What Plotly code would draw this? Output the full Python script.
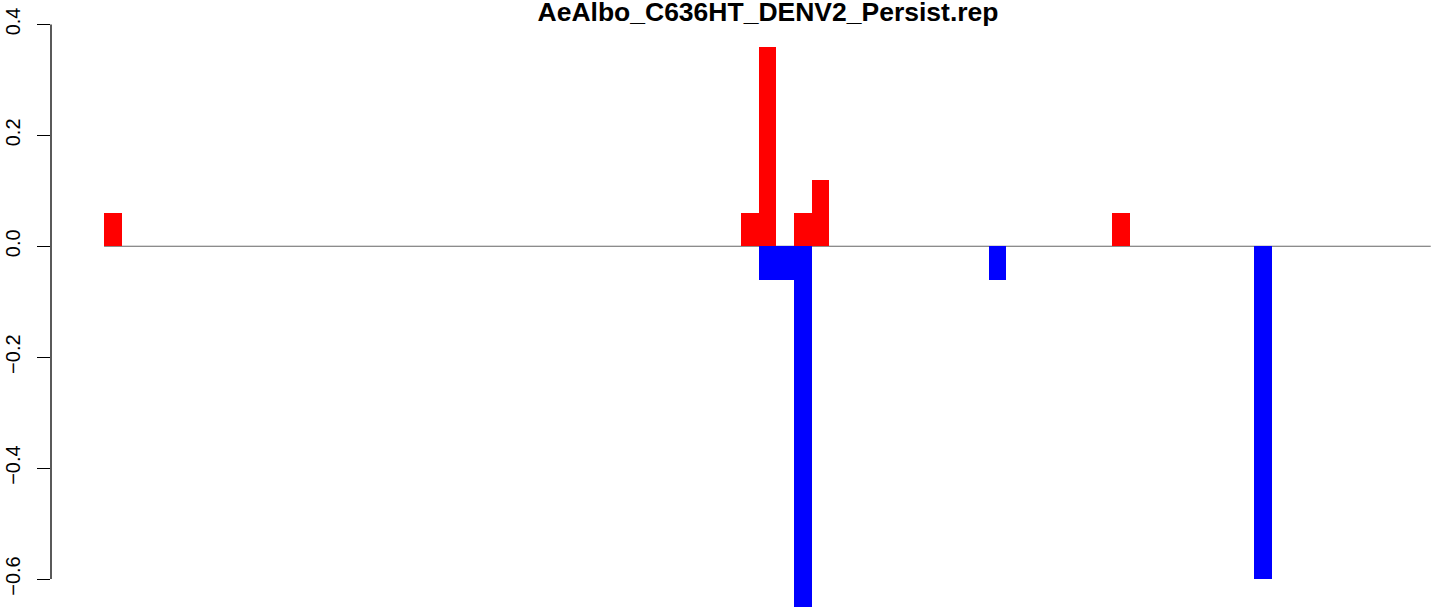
import plotly.graph_objects as go

title_text = "AeAlbo_C636HT_DENV2_Persist.rep"
n_bins = 75
bins = list(range(n_bins))

# positive (red) values by bin index
red_idx = [0, 36, 37, 39, 40, 57]
red_val = [0.06, 0.06, 0.36, 0.06, 0.12, 0.06]
# negative (blue) values by bin index
blue_idx = [37, 38, 39, 50, 65]
blue_val = [-0.06, -0.06, -0.66, -0.06, -0.60]

y_ticks = [-0.6, -0.4, -0.2, 0.0, 0.2, 0.4]
y_tick_text = ["\u22120.6", "\u22120.4", "\u22120.2", "0.0", "0.2", "0.4"]

red = [0.0] * n_bins
for i, v in zip(red_idx, red_val):
    red[i] = v
blue = [0.0] * n_bins
for i, v in zip(blue_idx, blue_val):
    blue[i] = v

fig = go.Figure()
fig.add_trace(go.Bar(x=bins, y=red, width=1, marker=dict(color="#FF0000", line=dict(width=0)),
                     showlegend=False, hoverinfo="x+y"))
fig.add_trace(go.Bar(x=bins, y=blue, width=1, marker=dict(color="#0000FF", line=dict(width=0)),
                     showlegend=False, hoverinfo="x+y"))

# baseline at zero across the bars
fig.add_shape(type="line", xref="x", yref="y", x0=-0.5, x1=n_bins - 0.5, y0=0, y1=0,
              line=dict(color="#666666", width=1.2), layer="below")
# R-style y axis line spanning first to last tick
fig.add_shape(type="line", xref="paper", yref="y", x0=0, x1=0, y0=y_ticks[0], y1=y_ticks[-1],
              line=dict(color="black", width=1.3), layer="above")

fig.update_layout(
    width=1444, height=607,
    margin=dict(l=51, r=0, t=24, b=0, autoexpand=False),
    paper_bgcolor="white", plot_bgcolor="white",
    barmode="overlay", bargap=0,
    font=dict(family="Liberation Sans, Arial, sans-serif", color="black"),
    title=dict(text="<b>" + title_text + "</b>", x=768 / 1444, xref="container", xanchor="center",
               y=1 - 12 / 607, yref="container", yanchor="middle", automargin=False,
               font=dict(size=26.5, family="Liberation Sans, Arial, sans-serif", color="black")),
    xaxis=dict(range=[-3.5, 75.25], showgrid=False, zeroline=False, showline=False,
               showticklabels=False, ticks="", automargin=False),
    yaxis=dict(range=[-0.6505, 0.4008], showgrid=False, zeroline=False, showline=False,
               tickmode="array", tickvals=y_ticks, ticktext=y_tick_text,
               ticks="outside", ticklen=13, tickwidth=1.3, tickcolor="black",
               tickangle=-90, tickfont=dict(size=20, color="black"),
               ticklabelstandoff=9, automargin=False),
)

fig.write_html("out.html",
               config={"displayModeBar": False},
               post_script="document.body.style.margin='0';document.body.style.overflow='hidden';")
